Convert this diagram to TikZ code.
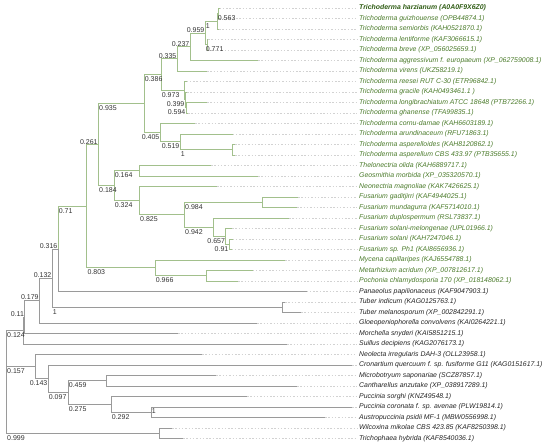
\documentclass[tikz,border=0pt]{standalone}
\usepackage{fontspec}
\setmainfont{Liberation Sans}
\definecolor{branchgrey}{HTML}{9A9A9A}
\definecolor{branchgreen}{HTML}{A2C08C}
\definecolor{dotgrey}{HTML}{D2D2D2}
\definecolor{leafgreen}{HTML}{4B7B2B}
\definecolor{leafdark}{HTML}{2F5C14}
\tikzset{
kbranch/.style={draw=branchgrey, line width=0.8pt},
gbranch/.style={draw=branchgreen, line width=0.8pt},
guide/.style={draw=dotgrey, line width=0.6pt, dash pattern=on 1.5pt off 1.8pt, shorten >=2pt},
taxon/.style={anchor=west, inner sep=0pt, font=\fontsize{6.9}{8}\selectfont\itshape, text=black!85},
gtaxon/.style={taxon, text=leafgreen},
support/.style={inner sep=0pt, font=\fontsize{7}{8}\selectfont, text=black!80},
}

\begin{document}
\begin{tikzpicture}[x=1pt,y=-1pt]
\useasboundingbox (0,0) rectangle (550,448);

\coordinate (root) at (6.3,381.9);
\coordinate (n563) at (218.5,13.25);
\coordinate (n217) at (217,21.13);
\coordinate (n771) at (207,44.75);
\coordinate (n205) at (205,32.94);
\coordinate (n190) at (190,46.72);
\coordinate (n177) at (177,58.86);
\coordinate (n594) at (186,107.75);
\coordinate (n399) at (185,99.88);
\coordinate (n973) at (184,90.69);
\coordinate (n161) at (161,74.77);
\coordinate (n232) at (232,149.75);
\coordinate (n180) at (180,141.88);
\coordinate (n160) at (160,132.69);
\coordinate (n144) at (144,103.73);
\coordinate (n139a) at (139.3,170.75);
\coordinate (n229) at (229,244.25);
\coordinate (n226) at (225.7,236.38);
\coordinate (n213) at (213.3,227.19);
\coordinate (n262) at (262.3,202.25);
\coordinate (n184) at (184.3,214.72);
\coordinate (n139b) at (139.3,200.61);
\coordinate (n114) at (114,185.68);
\coordinate (n98) at (98.3,144.71);
\coordinate (n207) at (206.7,275.75);
\coordinate (n155) at (155,267.88);
\coordinate (n261) at (86.7,206.29);
\coordinate (n71) at (58,248.9);
\coordinate (n283) at (282.7,307.25);
\coordinate (n316) at (52,278.07);
\coordinate (n179) at (39.3,300.54);
\coordinate (n11) at (24.7,317.02);
\coordinate (n124) at (23.3,330.51);
\coordinate (n106) at (106,380.75);
\coordinate (n151) at (151,412.25);
\coordinate (n111) at (111,404.38);
\coordinate (n68) at (68,392.56);
\coordinate (n48) at (48,378.78);
\coordinate (n35) at (35.3,366.64);
\coordinate (n159) at (159,433.25);

\coordinate (harzianum-t) at (219.5,8);
\coordinate (guizhouense-t) at (219.5,18.5);
\coordinate (semiorbis-t) at (219,29);
\coordinate (lentiforme-t) at (208,39.5);
\coordinate (breve-t) at (208,50);
\coordinate (aggressivum-t) at (258,60.5);
\coordinate (virens-t) at (207,71);
\coordinate (reesei-t) at (186.5,81.5);
\coordinate (gracile-t) at (187,92);
\coordinate (longibrachiatum-t) at (207,102.5);
\coordinate (ghanense-t) at (188,113);
\coordinate (cornudamae-t) at (195,123.5);
\coordinate (arundinaceum-t) at (232.5,134);
\coordinate (asperelloides-t) at (235,144.5);
\coordinate (asperellum-t) at (235,155);
\coordinate (thelonectria-t) at (211,165.5);
\coordinate (geosmithia-t) at (258,176);
\coordinate (neonectria-t) at (217,186.5);
\coordinate (gaditjirri-t) at (298,197);
\coordinate (mundagurra-t) at (297,207.5);
\coordinate (duplospermum-t) at (289,218);
\coordinate (melongenae-t) at (232,228.5);
\coordinate (solani-t) at (232.5,239);
\coordinate (ph1-t) at (231.5,249.5);
\coordinate (mycena-t) at (285,260);
\coordinate (metarhizium-t) at (252.5,270.5);
\coordinate (pochonia-t) at (238,281);
\coordinate (panaeolus-t) at (306.5,291.5);
\coordinate (indicum-t) at (285,302);
\coordinate (melanosporum-t) at (301,312.5);
\coordinate (gloeo-t) at (257,323);
\coordinate (morchella-t) at (178,333.5);
\coordinate (suillus-t) at (287,344);
\coordinate (neolecta-t) at (202,354.5);
\coordinate (cronartium-t) at (352,365);
\coordinate (microbotryum-t) at (216,375.5);
\coordinate (cantharellus-t) at (297,386);
\coordinate (sorghi-t) at (247,396.5);
\coordinate (coronata-t) at (352,407);
\coordinate (austro-t) at (325,417.5);
\coordinate (wilcoxina-t) at (172,428);
\coordinate (trichophaea-t) at (183,438.5);

\node[gtaxon, text=leafdark] (harzianum) at (359,8) {\bfseries Trichoderma harzianum (A0A0F9X6Z0)};
\node[gtaxon] (guizhouense) at (359,18.5) {Trichoderma guizhouense (OPB44874.1)};
\node[gtaxon] (semiorbis) at (359,29) {Trichoderma semiorbis (KAH0521870.1)};
\node[gtaxon] (lentiforme) at (359,39.5) {Trichoderma lentiforme (KAF3066615.1)};
\node[gtaxon] (breve) at (359,50) {Trichoderma breve (XP\_056025659.1)};
\node[gtaxon] (aggressivum) at (359,60.5) {Trichoderma aggressivum f. europaeum (XP\_062759008.1)};
\node[gtaxon] (virens) at (359,71) {Trichoderma virens (UKZ58219.1)};
\node[gtaxon] (reesei) at (359,81.5) {Trichoderma reesei RUT C-30 (ETR96842.1)};
\node[gtaxon] (gracile) at (359,92) {Trichoderma gracile (KAH0493461.1 )};
\node[gtaxon] (longibrachiatum) at (359,102.5) {Trichoderma longibrachiatum ATCC 18648 (PTB72266.1)};
\node[gtaxon] (ghanense) at (359,113) {Trichoderma ghanense (TFA99835.1)};
\node[gtaxon] (cornudamae) at (359,123.5) {Trichoderma cornu-damae (KAH6603189.1)};
\node[gtaxon] (arundinaceum) at (359,134) {Trichoderma arundinaceum (RFU71863.1)};
\node[gtaxon] (asperelloides) at (359,144.5) {Trichoderma asperelloides (KAH8120862.1)};
\node[gtaxon] (asperellum) at (359,155) {Trichoderma asperellum CBS 433.97 (PTB35655.1)};
\node[gtaxon] (thelonectria) at (359,165.5) {Thelonectria olida (KAH6889717.1)};
\node[gtaxon] (geosmithia) at (359,176) {Geosmithia morbida (XP\_035320570.1)};
\node[gtaxon] (neonectria) at (359,186.5) {Neonectria magnoliae (KAK7426625.1)};
\node[gtaxon] (gaditjirri) at (359,197) {Fusarium gaditjirri (KAF4944025.1)};
\node[gtaxon] (mundagurra) at (359,207.5) {Fusarium mundagurra (KAF5714010.1)};
\node[gtaxon] (duplospermum) at (359,218) {Fusarium duplospermum (RSL73837.1)};
\node[gtaxon] (melongenae) at (359,228.5) {Fusarium solani-melongenae (UPL01966.1)};
\node[gtaxon] (solani) at (359,239) {Fusarium solani (KAH7247046.1)};
\node[gtaxon] (ph1) at (359,249.5) {Fusarium sp. Ph1 (KAI8656936.1)};
\node[gtaxon] (mycena) at (359,260) {Mycena capillaripes (KAJ6554788.1)};
\node[gtaxon] (metarhizium) at (359,270.5) {Metarhizium acridum (XP\_007812617.1)};
\node[gtaxon] (pochonia) at (359,281) {Pochonia chlamydosporia 170 (XP\_018148062.1)};
\node[taxon] (panaeolus) at (359,291.5) {Panaeolus papilionaceus (KAF9047903.1)};
\node[taxon] (indicum) at (359,302) {Tuber indicum (KAG0125763.1)};
\node[taxon] (melanosporum) at (359,312.5) {Tuber melanosporum (XP\_002842291.1)};
\node[taxon] (gloeo) at (359,323) {Gloeopeniophorella convolvens (KAI0264221.1)};
\node[taxon] (morchella) at (359,333.5) {Morchella snyderi (KAI5851215.1)};
\node[taxon] (suillus) at (359,344) {Suillus decipiens (KAG2076173.1)};
\node[taxon] (neolecta) at (359,354.5) {Neolecta irregularis DAH-3 (OLL23958.1)};
\node[taxon] (cronartium) at (359,365) {Cronartium quercuum f. sp. fusiforme G11 (KAG0151617.1)};
\node[taxon] (microbotryum) at (359,375.5) {Microbotryum saponariae (SCZ87857.1)};
\node[taxon] (cantharellus) at (359,386) {Cantharellus anzutake (XP\_038917289.1)};
\node[taxon] (sorghi) at (359,396.5) {Puccinia sorghi (KNZ49548.1)};
\node[taxon] (coronata) at (359,407) {Puccinia coronata f. sp. avenae (PLW19814.1)};
\node[taxon] (austro) at (359,417.5) {Austropuccinia psidii MF-1 (MBW0556998.1)};
\node[taxon] (wilcoxina) at (359,428) {Wilcoxina mikolae CBS 423.85 (KAF8250398.1)};
\node[taxon] (trichophaea) at (359,438.5) {Trichophaea hybrida (KAF8540036.1)};

\foreach \t in {harzianum,guizhouense,semiorbis,lentiforme,breve,aggressivum,virens,reesei,gracile,longibrachiatum,ghanense,cornudamae,arundinaceum,asperelloides,asperellum,thelonectria,geosmithia,neonectria,gaditjirri,mundagurra,duplospermum,melongenae,solani,ph1,mycena,metarhizium,pochonia,panaeolus,indicum,melanosporum,gloeo,morchella,suillus,neolecta,cronartium,microbotryum,cantharellus,sorghi,coronata,austro,wilcoxina,trichophaea}
  \draw[guide] (\t-t) -- (\t.west);

\draw[gbranch] (n563) |- (harzianum-t) (n563) |- (guizhouense-t);
\draw[gbranch] (n217) |- (n563) (n217) |- (semiorbis-t);
\draw[gbranch] (n771) |- (lentiforme-t) (n771) |- (breve-t);
\draw[gbranch] (n205) |- (n217) (n205) |- (n771);
\draw[gbranch] (n190) |- (n205) (n190) |- (aggressivum-t);
\draw[gbranch] (n177) |- (n190) (n177) |- (virens-t);
\draw[gbranch] (n594) |- (longibrachiatum-t) (n594) |- (ghanense-t);
\draw[gbranch] (n399) |- (gracile-t) (n399) |- (n594);
\draw[gbranch] (n973) |- (reesei-t) (n973) |- (n399);
\draw[gbranch] (n161) |- (n177) (n161) |- (n973);
\draw[gbranch] (n232) |- (asperelloides-t) (n232) |- (asperellum-t);
\draw[gbranch] (n180) |- (arundinaceum-t) (n180) |- (n232);
\draw[gbranch] (n160) |- (cornudamae-t) (n160) |- (n180);
\draw[gbranch] (n144) |- (n161) (n144) |- (n160);
\draw[gbranch] (n139a) |- (thelonectria-t) (n139a) |- (geosmithia-t);
\draw[gbranch] (n229) |- (solani-t) (n229) |- (ph1-t);
\draw[gbranch] (n226) |- (melongenae-t) (n226) |- (n229);
\draw[gbranch] (n213) |- (duplospermum-t) (n213) |- (n226);
\draw[gbranch] (n262) |- (gaditjirri-t) (n262) |- (mundagurra-t);
\draw[gbranch] (n184) |- (n262) (n184) |- (n213);
\draw[gbranch] (n139b) |- (neonectria-t) (n139b) |- (n184);
\draw[gbranch] (n114) |- (n139a) (n114) |- (n139b);
\draw[gbranch] (n98) |- (n144) (n98) |- (n114);
\draw[gbranch] (n207) |- (metarhizium-t) (n207) |- (pochonia-t);
\draw[gbranch] (n155) |- (mycena-t) (n155) |- (n207);
\draw[gbranch] (n261) |- (n98) (n261) |- (n155);
\draw[gbranch] (n71) |- (n261);
\draw[kbranch] (n71) |- (panaeolus-t);
\draw[kbranch] (n283) |- (indicum-t) (n283) |- (melanosporum-t);
\draw[kbranch] (n316) |- (n71) (n316) |- (n283);
\draw[kbranch] (n179) |- (n316) (n179) |- (gloeo-t);
\draw[kbranch] (n11) |- (n179) (n11) |- (morchella-t);
\draw[kbranch] (n124) |- (n11) (n124) |- (suillus-t);
\draw[kbranch] (n106) |- (microbotryum-t) (n106) |- (cantharellus-t);
\draw[kbranch] (n151) |- (coronata-t) (n151) |- (austro-t);
\draw[kbranch] (n111) |- (sorghi-t) (n111) |- (n151);
\draw[kbranch] (n68) |- (n106) (n68) |- (n111);
\draw[kbranch] (n48) |- (cronartium-t) (n48) |- (n68);
\draw[kbranch] (n35) |- (neolecta-t) (n35) |- (n48);
\draw[kbranch] (n159) |- (wilcoxina-t) (n159) |- (trichophaea-t);
\draw[kbranch] (root) |- (n124) (root) |- (n35) (root) |- (n159);

\node[support, anchor=west] (s563) at (217.7,17.75) {0.563};
\node[support, anchor=west] (s217) at (205.7,25.6) {1};
\node[support, anchor=west] (s771) at (205.7,49.25) {0.771};
\node[support, anchor=east] (s205) at (204.5,29.9) {0.959};
\node[support, anchor=east] (s190) at (189.5,43.7) {0.237};
\node[support, anchor=east] (s177) at (176.5,55.9) {0.335};
\node[support, anchor=west] (s161) at (144.7,79.3) {0.386};
\node[support, anchor=west] (s973) at (161.7,95.2) {0.973};
\node[support, anchor=east] (s399) at (184.5,104.4) {0.399};
\node[support, anchor=east] (s594) at (185.5,112.25) {0.594};
\node[support, anchor=west] (s144) at (99,108.2) {0.935};
\node[support, anchor=east] (s160) at (159.5,137.2) {0.405};
\node[support, anchor=east] (s180) at (179.5,146.4) {0.519};
\node[support, anchor=west] (s232) at (180.7,154.25) {1};
\node[support, anchor=east] (s98) at (97.8,141.7) {0.261};
\node[support, anchor=west] (s139a) at (114.7,175.25) {0.164};
\node[support, anchor=west] (s114) at (99,190.2) {0.184};
\node[support, anchor=west] (s139b) at (114.7,205.1) {0.324};
\node[support, anchor=west] (s262) at (185,206.75) {0.984};
\node[support, anchor=west] (s184) at (140,219.2) {0.825};
\node[support, anchor=west] (s213) at (185,231.7) {0.942};
\node[support, anchor=east] (s226) at (225.2,240.9) {0.657};
\node[support, anchor=east] (s229) at (228.5,248.75) {0.91};
\node[support, anchor=west] (s261) at (58.7,210.8) {0.71};
\node[support, anchor=east] (s71) at (57.5,245.9) {0.316};
\node[support, anchor=west] (s155) at (87.4,272.4) {0.803};
\node[support, anchor=west] (s207) at (155.7,280.25) {0.966};
\node[support, anchor=east] (s316) at (51.5,275.1) {0.132};
\node[support, anchor=west] (s283) at (52.7,311.75) {1};
\node[support, anchor=east] (s179) at (38.8,297.5) {0.179};
\node[support, anchor=east] (s11) at (24.2,314) {0.11};
\node[support, anchor=west] (s124) at (7,335) {0.124};
\node[support, anchor=west] (s35) at (7,371.1) {0.157};
\node[support, anchor=east] (s48) at (47.5,383.3) {0.143};
\node[support, anchor=west] (s106) at (68.7,385.25) {0.459};
\node[support, anchor=west] (s68) at (48.7,397.06) {0.097};
\node[support, anchor=west] (s111) at (68.7,408.9) {0.275};
\node[support, anchor=west] (s151) at (111.7,416.75) {0.292};
\node[support, anchor=west] (scoronata) at (151.7,411.5) {1};
\node[support, anchor=west] (s159) at (7,437.75) {0.999};
\end{tikzpicture}
\end{document}
